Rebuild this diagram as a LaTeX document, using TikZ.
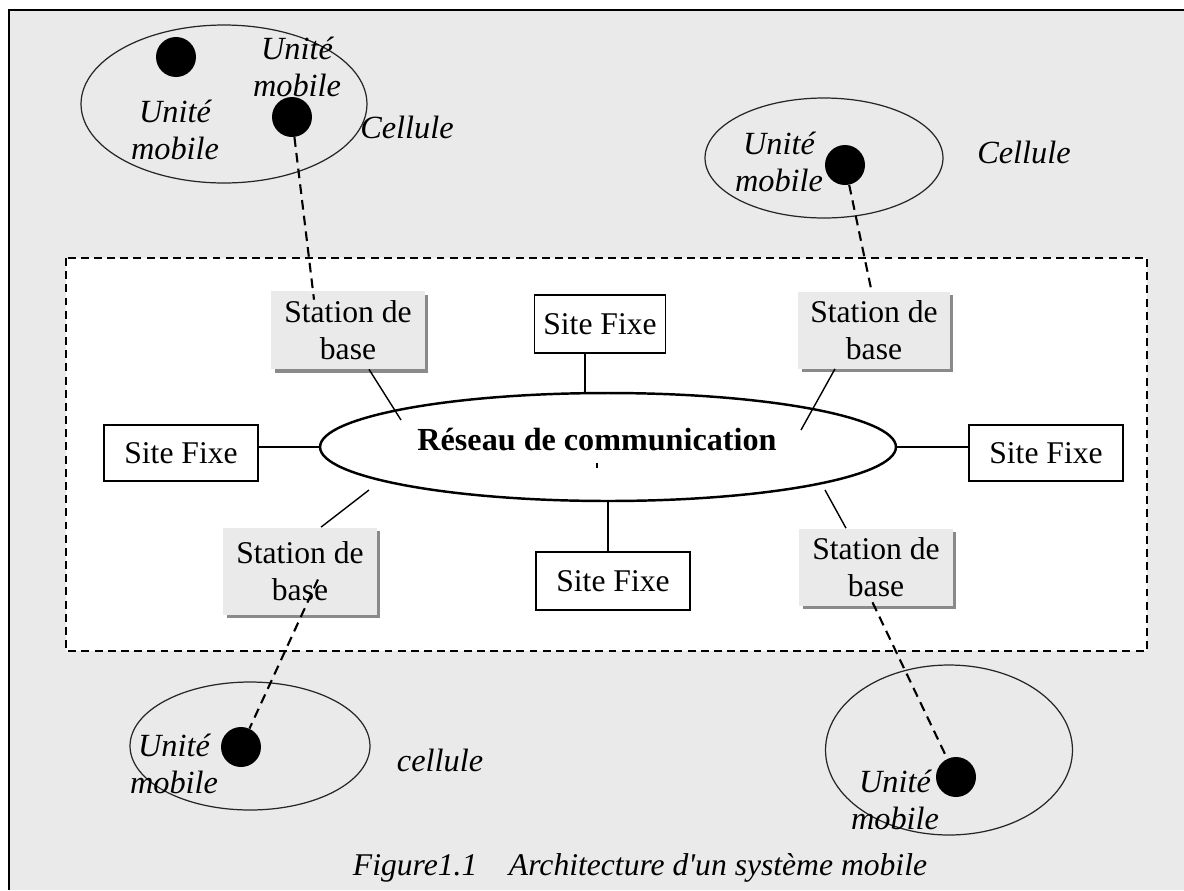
\documentclass[tikz,border=0pt]{standalone}
\usepackage{fontspec}
\setmainfont{Liberation Serif}
\newfontfamily\capfont{Liberation Serif}[Ligatures=TeXOff]
\usetikzlibrary{shapes.geometric,shadows,calc}
\definecolor{panel}{HTML}{EAEAEA}
\definecolor{shadowgray}{HTML}{8A8A8A}

\begin{document}
\begin{tikzpicture}[x=0.02cm,y=-0.02cm,
  every node/.style={font=\fontsize{18}{21}\selectfont},
  sitebox/.style={draw, line width=0.8pt, fill=white, inner sep=0pt},
  stationbox/.style={fill=panel, align=center, inner sep=0pt,
    drop shadow={shadow xshift=0.07cm, shadow yshift=-0.07cm, fill=shadowgray, opacity=1}},
  dot/.style={circle, fill=black, minimum size=0.8cm, inner sep=0pt},
  cell/.style={ellipse, draw=black!85, line width=0.7pt, inner sep=0pt},
  mobiletext/.style={font=\fontsize{18.4}{21}\selectfont\itshape, align=center},
  link/.style={line width=0.8pt},
  radiolink/.style={line width=1.2pt, dash pattern=on 5.5pt off 3.5pt},
]
\useasboundingbox (0,0) rectangle (1184,890);
\fill[white] (0,0) rectangle (1184,890);
% page panel with its frame
\fill[panel] (9,10) rectangle (1184,890);
\draw[line width=1.1pt] (9,890) -- (9,10) -- (1184,10);
% fixed network area
\draw[fill=white, line width=0.8pt, dash pattern=on 4.5pt off 3pt] (66,258) rectangle (1147,651);

% cells
\node[cell, minimum width=5.72cm, minimum height=3.16cm] (cellTL) at (224,104) {};
\node[cell, minimum width=4.76cm, minimum height=2.4cm] (cellTR) at (824,158) {};
\node[cell, minimum width=4.8cm, minimum height=2.56cm] (cellBL) at (250,746) {};
\node[cell, minimum width=4.94cm, minimum height=3.4cm] (cellBR) at (949,750) {};

% cell labels
\node[mobiletext] (mTLa) at (175,130) {Unité\\mobile};
\node[mobiletext] (mTLb) at (297,67) {Unité\\mobile};
\node[mobiletext] (cTLlabel) at (407,127) {Cellule};
\node[mobiletext] (mTR) at (779,162) {Unité\\mobile};
\node[mobiletext] (cTRlabel) at (1024,152) {Cellule};
\node[mobiletext] (mBL) at (174,764) {Unité\\mobile};
\node[mobiletext] (cBLlabel) at (440,760) {cellule};
\node[mobiletext] (mBR) at (895,800) {Unité\\mobile};

% mobile units
\node[dot] (dotTLa) at (176,57) {};
\node[dot] (dotTLb) at (292,117) {};
\node[dot] (dotTR) at (845,165) {};
\node[dot] (dotBL) at (241,747) {};
\node[dot] (dotBR) at (956,777) {};

% communication network
\node[ellipse, draw, line width=1.4pt, fill=white, minimum width=11.52cm, minimum height=2.16cm, inner sep=0pt] (net) at (608,447) {};
\node[font=\fontsize{18.3}{21}\selectfont\bfseries] (netlabel) at (597,440) {Réseau de communication};
\fill (596,463) rectangle (598,468);

% fixed sites
\node[sitebox, minimum width=2.62cm, minimum height=1.16cm] (sfT) at (600,324) {Site Fixe};
\node[sitebox, minimum width=3.08cm, minimum height=1.12cm] (sfL) at (181,453) {Site Fixe};
\node[sitebox, minimum width=3.08cm, minimum height=1.12cm] (sfR) at (1046,453) {Site Fixe};
\node[sitebox, minimum width=3.08cm, minimum height=1.16cm] (sfB) at (613,581) {Site Fixe};

% base stations
\node[stationbox, minimum width=3.08cm, minimum height=1.56cm] (stTL) at (348,330) {Station de\\base};
\node[stationbox, minimum width=3.04cm, minimum height=1.54cm] (stTR) at (874,330) {Station de\\base};
\node[stationbox, minimum width=3.08cm, minimum height=1.74cm] (stBL) at (300,571) {Station de\\base};
\node[stationbox, minimum width=3.08cm, minimum height=1.54cm] (stBR) at (876,567) {Station de\\base};

% wired links
\draw[link] ([xshift=-0.3cm]sfT.south) -- ([xshift=-0.3cm]sfT.south |- net.north);
\draw[link] (net.south) -- (net.south |- sfB.north);
\draw[link] (sfL.east |- net.west) -- (net.west);
\draw[link] (net.east) -- (net.east -| sfR.west);
\draw[link] ([xshift=0.42cm]stTL.south) -- ($(net)+(-207,-27)$);
\draw[link] ([xshift=-0.78cm]stTR.south) -- ($(net)+(193,-17)$);
\draw[link] ([xshift=0.42cm]stBL.north) -- ($(net)+(-239,43)$);
\draw[link] ([xshift=-0.6cm]stBR.north) -- ($(net)+(217,43)$);

% radio links
\draw[radiolink] (dotTLb) -- ([xshift=-0.68cm,yshift=-0.18cm]stTL.north);
\draw[radiolink] (dotTR) -- ([xshift=-0.04cm,yshift=-0.04cm]stTR.north);
\draw[radiolink] ([xshift=0.36cm,yshift=-0.17cm]stBL.center) -- (dotBL);
\draw[radiolink] ([xshift=-0.07cm,yshift=0.07cm]stBR.south) -- (dotBR);

% caption
\node[font=\fontsize{18}{21}\selectfont\capfont\itshape] (caption) at (640,868) {Figure1.1\hspace{1em}Architecture d'un système mobile};
\end{tikzpicture}
\end{document}
